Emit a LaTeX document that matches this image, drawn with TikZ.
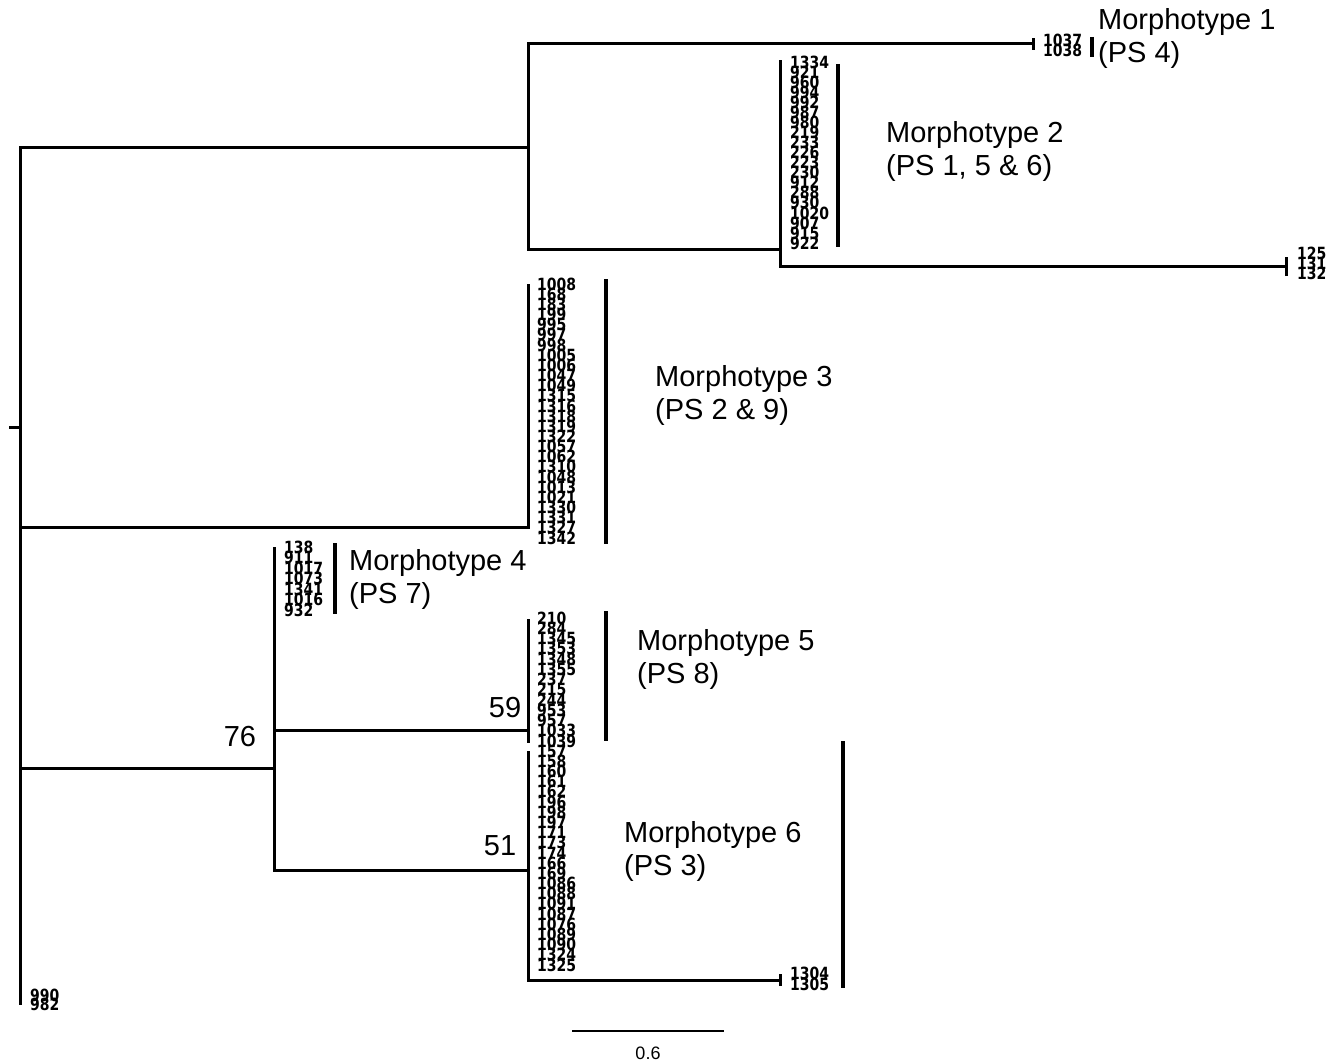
\documentclass[tikz,border=0pt]{standalone}
\usepackage{fontspec}
\setmainfont{Liberation Sans}
\newfontfamily\leaffont{DejaVu Sans}
\newcommand{\tallnum}[1]{\scalebox{1}[1.2]{#1}}
\begin{document}
\begin{tikzpicture}[x=1pt,y=-1pt,
  br/.style={line width=3pt,line cap=rect,line join=miter},
  tickmark/.style={line width=3pt},
  grpbar/.style={line width=3.5pt},
  leaf/.style={anchor=west,inner sep=0pt,font=\leaffont\bfseries\fontsize{14}{14}\selectfont},
  morph/.style={anchor=west,inner sep=0pt,align=left,font=\fontsize{29}{33}\selectfont},
  support/.style={inner sep=0pt,font=\fontsize{29}{33}\selectfont}]
\useasboundingbox (0,0) rectangle (1338,1062);
% tree coordinates
\coordinate (stub) at (10,427);
\coordinate (root) at (20,427);
\coordinate (rtop) at (20,147);
\coordinate (rbot) at (20,1003);
\coordinate (A) at (528,147);
\coordinate (m1) at (1033,44);
\coordinate (B) at (780,249);
\coordinate (Btop) at (780,62);
\coordinate (l125) at (1286,266);
\coordinate (C) at (528,527);
\coordinate (Ctop) at (528,285);
\coordinate (D) at (274,768);
\coordinate (Dtop) at (274,548);
\coordinate (E) at (528,730);
\coordinate (Etop) at (528,620);
\coordinate (Ebot) at (528,741);
\coordinate (F) at (528,870);
\coordinate (Ftop) at (528,752);
\coordinate (l1304) at (780,980);
% branches
\draw[br] (stub) -- (root);
\draw[br] (rtop) -- (rbot);
\draw[br] (rtop) -- (A);
\draw[br] (m1) -| (A) |- (B);
\draw[br] (Btop) -- (B) |- (l125);
\draw[br] (C -| rtop) -- (C) -- (Ctop);
\draw[br] (D -| rtop) -- (D);
\draw[br] (Dtop) -- (D);
\draw[br] (E) -| (D) |- (F);
\draw[br] (Etop) -- (Ebot);
\draw[br] (Ftop) -- (F) |- (l1304);
% leaf ticks
\draw[tickmark] ([yshift=-6]m1) -- ([yshift=6]m1);
\draw[tickmark] ([yshift=-10]l125) -- ([yshift=9]l125);
\draw[tickmark] ([yshift=-6]l1304) -- ([yshift=6]l1304);
% leaf labels
\node[leaf] (m1a) at (1043,40) {\tallnum{1037}};
\node[leaf] (m1b) at (1043,50) {\tallnum{1038}};
\foreach \t [count=\i from 0] in {1334,921,960,994,992,987,980,219,233,226,223,230,912,288,930,1020,907,915,922}
  \node[leaf] (m2-\i) at (790,{62+\i*10.06}) {\tallnum{\t}};
\foreach \t [count=\i from 0] in {125,131,132}
  \node[leaf] (x125-\i) at (1297,{253+\i*10}) {\tallnum{\t}};
\foreach \t [count=\i from 0] in {1008,168,183,199,995,997,998,1005,1006,1047,1049,1315,1316,1318,1319,1322,1057,1062,1310,1048,1013,1021,1330,1331,1327,1342}
  \node[leaf] (m3-\i) at (537,{284+\i*10.16}) {\tallnum{\t}};
\foreach \t [count=\i from 0] in {138,911,1017,1073,1341,1016,932}
  \node[leaf] (m4-\i) at (284,{547+\i*10.5}) {\tallnum{\t}};
\foreach \t [count=\i from 0] in {210,284,1345,1353,1348,1355,237,215,244,953,957,1033,1039}
  \node[leaf] (m5-\i) at (537,{618+\i*10.25}) {\tallnum{\t}};
\foreach \t [count=\i from 0] in {157,158,160,161,162,196,198,197,171,173,174,166,169,1086,1088,1091,1087,1076,1089,1090,1324,1325}
  \node[leaf] (m6-\i) at (537,{751+\i*10.19}) {\tallnum{\t}};
\node[leaf] (x1304) at (790,973) {\tallnum{1304}};
\node[leaf] (x1305) at (790,984) {\tallnum{1305}};
\node[leaf] (x990) at (30,995) {\tallnum{990}};
\node[leaf] (x982) at (30,1004) {\tallnum{982}};
% group bars
\draw[grpbar] (1092,37) -- (1092,57);
\draw[grpbar] (838,64) -- (838,247);
\draw[grpbar] (606,279) -- (606,544);
\draw[grpbar] (335,543) -- (335,614);
\draw[grpbar] (606,611) -- (606,741);
\draw[grpbar] (843,741) -- (843,988);
% morphotype labels
\node[morph] (t1) at (1098,38) {Morphotype 1\\(PS 4)};
\node[morph] (t2) at (886,151) {Morphotype 2\\(PS 1, 5 \& 6)};
\node[morph] (t3) at (655,395) {Morphotype 3\\(PS 2 \& 9)};
\node[morph] (t4) at (349,579) {Morphotype 4\\(PS 7)};
\node[morph] (t5) at (637,659) {Morphotype 5\\(PS 8)};
\node[morph] (t6) at (624,851) {Morphotype 6\\(PS 3)};
% support values
\node[support] (s76) at (240,737) {76};
\node[support] (s59) at (505,708) {59};
\node[support] (s51) at (500,846) {51};
% scale bar
\coordinate (sbl) at (572,1031);
\coordinate (sbr) at (724,1031);
\draw[line width=2pt] (sbl) -- (sbr);
\node[inner sep=0pt,font=\fontsize{18}{20}\selectfont] (sbt) at (648,1053) {0.6};
\end{tikzpicture}
\end{document}
